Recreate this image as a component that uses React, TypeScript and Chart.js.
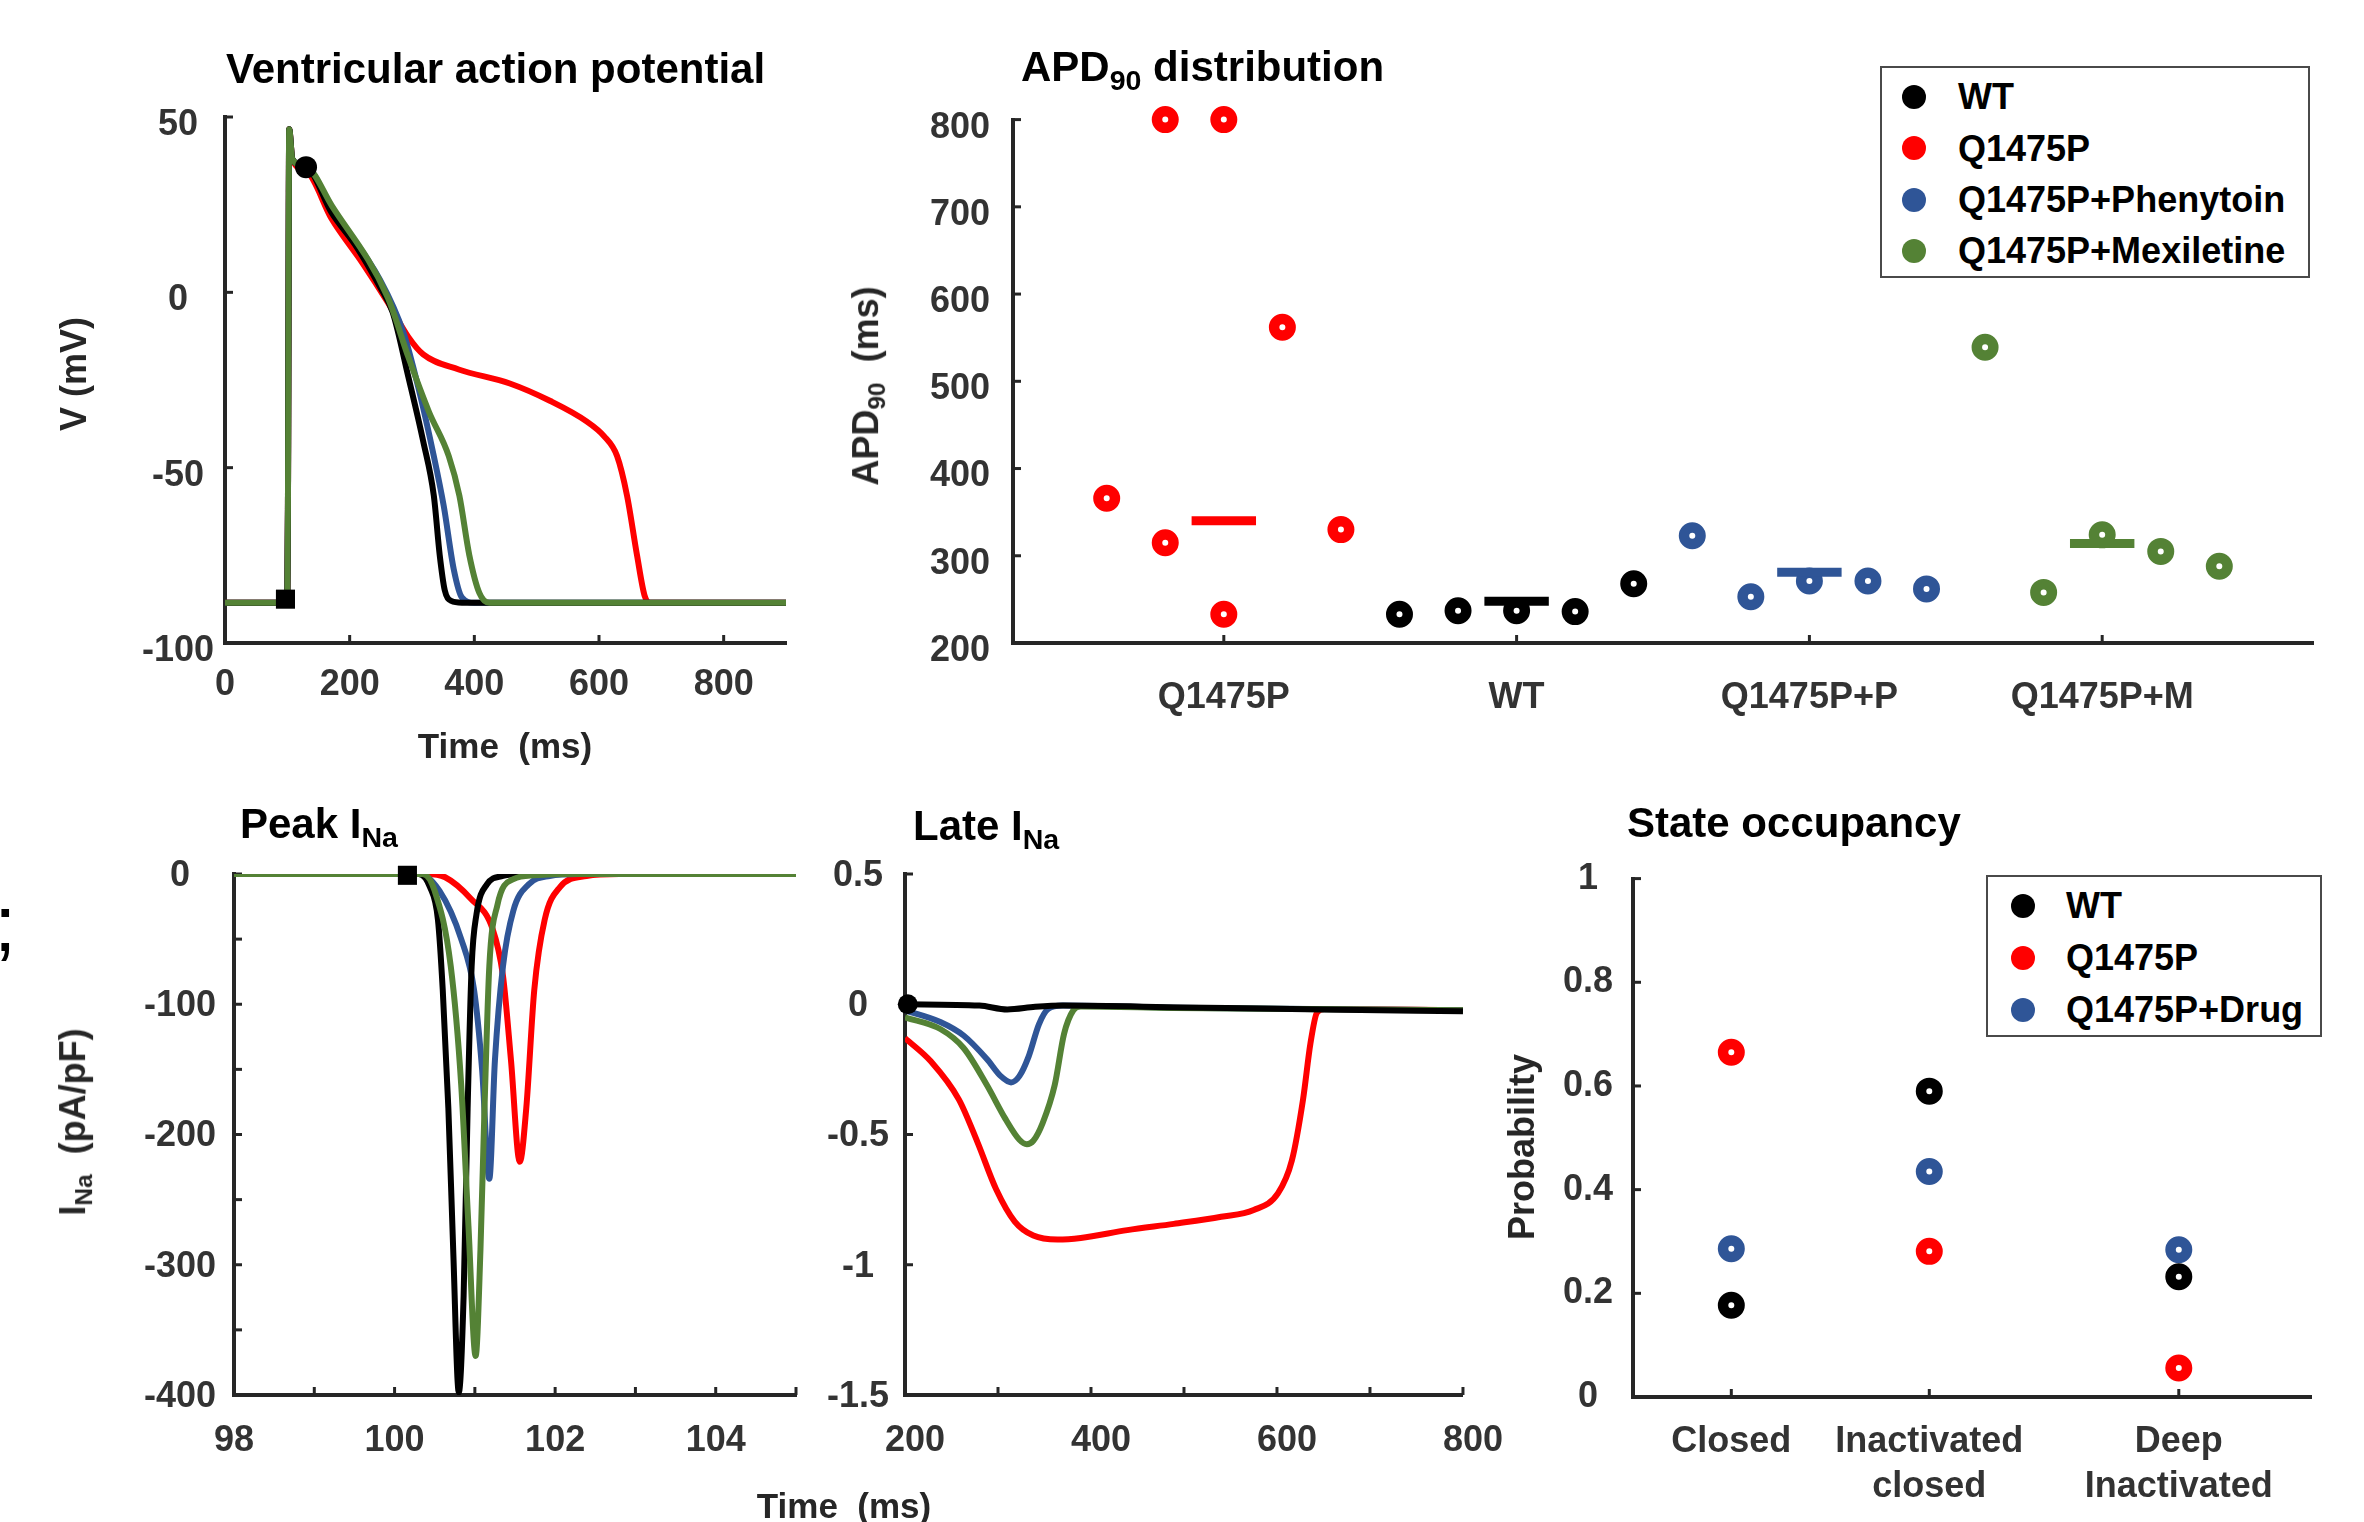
import React, { useEffect, useRef } from "react";
import { Chart, registerables } from "chart.js";

Chart.register(...registerables);

const FONT = '"Liberation Sans", Arial, Helvetica, sans-serif';
const COLOR_WT = "#000000";
const COLOR_Q = "#FF0000";
const COLOR_P = "#2F5597";
const COLOR_M = "#548235";
const AXIS_COLOR = "#262626";
const TICK_TEXT = "#333333";

// ---------- Ventricular action potential ----------
const apTimeWT = [0, 98, 100, 101, 103, 108, 131, 171, 212, 249, 269, 294, 318, 335, 344.5, 352.6, 363, 380, 900];
const apVoltWT = [-88.5, -88.5, -88, -60, 46.5, 38, 35.7, 22.7, 12.7, 1.4, -5.7, -24, -42.5, -58, -75, -85, -88, -88.5, -88.5];
const apTimeQ = [0, 98, 100, 101, 103, 108, 131, 171, 220, 261, 294, 318, 375, 457, 522, 580, 608, 629, 645, 661, 673, 682, 900];
const apVoltQ = [-88.5, -88.5, -88, -60, 46.5, 38, 34.5, 21, 8.5, -2.8, -12.7, -17.7, -22, -26, -31, -36.8, -41, -46.7, -58, -75, -86.4, -88.5, -88.5];
const apTimeP = [0, 98, 100, 101, 103, 108, 131, 171, 249, 286, 310, 335, 351, 367, 380, 400, 900];
const apVoltP = [-88.5, -88.5, -88, -60, 46.5, 38, 35.7, 24, 3.5, -11.3, -27, -46.7, -61, -79, -87, -88.5, -88.5];
const apTimeM = [0, 98, 100, 101, 103, 108, 131, 171, 261, 294, 327, 359, 376, 392, 408, 424, 900];
const apVoltM = [-88.5, -88.5, -88, -60, 46.5, 38, 35.7, 24.8, -1.4, -18.4, -34, -46.7, -58, -75, -85.7, -88.5, -88.5];
const apDotT = [130];
const apDotV = [35.7];
const apSquareT = [97];
const apSquareV = [-87.5];
const apXTicks = [0, 200, 400, 600, 800];
const apXLabels = ["0", "200", "400", "600", "800"];
const apYTicks = [50, 0, -50, -100];
const apYLabels = ["50", "0", "-50", "-100"];

// ---------- APD90 distribution ----------
const apdCategories = ["Q1475P", "WT", "Q1475P+P", "Q1475P+M"];
const apdCategoryPos = [1, 2, 3, 4];
const apdQX = [0.6, 0.8, 0.8, 1.0, 1.0, 1.2, 1.4];
const apdQY = [366, 800, 315, 800, 233, 562, 330];
const apdWTX = [1.6, 1.8, 2.0, 2.2, 2.4];
const apdWTY = [233, 237, 237, 236, 268];
const apdPX = [2.6, 2.8, 3.0, 3.2, 3.4];
const apdPY = [323, 253, 271, 271, 262];
const apdMX = [3.6, 3.8, 4.0, 4.2, 4.4];
const apdMY = [539, 258, 324, 305, 288];
const apdMeans = [340, 248, 281, 314]; // Q1475P, WT, +P, +M
const apdYTicks = [200, 300, 400, 500, 600, 700, 800];
const apdYLabels = ["200", "300", "400", "500", "600", "700", "800"];
const apdLegendLabels = ["WT", "Q1475P", "Q1475P+Phenytoin", "Q1475P+Mexiletine"];

// ---------- Peak INa ----------
const peakTimeWT = [98, 100.3, 100.44, 100.54, 100.6, 100.67, 100.73, 100.8, 100.86, 100.91, 100.96, 101.02, 101.15, 101.35, 101.6, 105];
const peakCurWT = [0, 0, -10, -35, -89, -180, -288, -398, -324, -180, -71, -31, -8, -1.5, 0, 0];
const peakTimeQ = [98, 100.4, 100.63, 100.95, 101.22, 101.35, 101.45, 101.56, 101.64, 101.74, 101.87, 102.06, 102.39, 102.8, 105];
const peakCurQ = [0, 0, -2.5, -19, -42, -78, -143, -221, -180, -89, -35, -10, -1.5, 0, 0];
const peakTimeP = [98, 100.3, 100.56, 100.83, 100.99, 101.09, 101.18, 101.25, 101.35, 101.48, 101.67, 101.93, 102.3, 105];
const peakCurP = [0, 0, -13, -50, -89, -150, -234, -143, -71, -28, -8, -1.5, 0, 0];
const peakTimeM = [98, 100.35, 100.5, 100.7, 100.83, 100.92, 101.01, 101.07, 101.12, 101.18, 101.28, 101.48, 101.74, 102.2, 105];
const peakCurM = [0, 0, -13, -71, -162, -270, -370, -288, -180, -71, -24, -4, -1, 0, 0];
const peakSquareT = [100.16];
const peakSquareI = [-1];
const peakXTicks = [98, 99, 100, 101, 102, 103, 104, 105];
const peakXLabels = ["98", "", "100", "", "102", "", "104", ""];
const peakYTicks = [0, -50, -100, -150, -200, -250, -300, -350, -400];
const peakYLabels = ["0", "", "-100", "", "-200", "", "-300", "", "-400"];

// ---------- Late INa ----------
const lateTimeWT = [200, 280, 310, 340, 370, 500, 650, 800];
const lateCurWT = [0, -0.005, -0.02, -0.01, -0.005, -0.012, -0.02, -0.027];
const lateTimeQ = [200, 228, 258, 278, 298, 318, 338, 364, 389, 439, 489, 540, 575, 601, 616, 628, 636, 643, 651, 800];
const lateCurQ = [-0.13, -0.22, -0.366, -0.53, -0.71, -0.834, -0.888, -0.903, -0.897, -0.867, -0.843, -0.816, -0.79, -0.726, -0.6, -0.366, -0.15, -0.032, -0.018, -0.023];
const lateTimeP = [200, 238, 263, 288, 303, 314, 323, 333, 344, 354, 369, 489, 800];
const lateCurP = [-0.023, -0.068, -0.12, -0.21, -0.276, -0.3, -0.276, -0.2, -0.077, -0.018, -0.005, -0.013, -0.023];
const lateTimeM = [200, 238, 263, 288, 308, 323, 331, 338, 348, 361, 371, 381, 389, 489, 800];
const lateCurM = [-0.05, -0.095, -0.168, -0.31, -0.44, -0.52, -0.537, -0.524, -0.456, -0.31, -0.114, -0.023, -0.009, -0.014, -0.023];
const lateDotT = [203];
const lateDotI = [0];
const lateXTicks = [200, 300, 400, 500, 600, 700, 800];
const lateXLabels = ["200", "", "400", "", "600", "", "800"];
const lateYTicks = [0.5, 0, -0.5, -1, -1.5];
const lateYLabels = ["0.5", "0", "-0.5", "-1", "-1.5"];

// ---------- State occupancy ----------
const stateCategories = [["Closed"], ["Inactivated", "closed"], ["Deep", "Inactivated"]];
const stateX = [1.45, 4.37, 8.05];
const stateWT = [0.177, 0.59, 0.232];
const stateQ = [0.665, 0.281, 0.056];
const stateDrug = [0.286, 0.435, 0.284];
const stateYTicks = [0, 0.2, 0.4, 0.6, 0.8, 1];
const stateYLabels = ["0", "0.2", "0.4", "0.6", "0.8", "1"];
const stateLegendLabels = ["WT", "Q1475P", "Q1475P+Drug"];

// ---------- layout ----------
type Rect = { l: number; t: number; r: number; b: number };
const YW = 140;
const XH = 120;
const PT = 40;
const PR = 50;
const MEAN_HALF = 0.11;
const LINE_W = 6;

const areaAP: Rect = { l: 225, t: 117, r: 786, b: 643 };
const areaAPD: Rect = { l: 1013, t: 115, r: 2313, b: 643 };
const areaPeak: Rect = { l: 234, t: 874, r: 796, b: 1395 };
const areaLate: Rect = { l: 905, t: 874, r: 1467, b: 1395 };
const areaState: Rect = { l: 1633, t: 877, r: 2311, b: 1397 };

const pts = (xs: number[], ys: number[]) => xs.map((x, i) => ({ x, y: ys[i] }));

const curve = (xs: number[], ys: number[], color: string, order: number) => ({
  type: "scatter",
  data: pts(xs, ys),
  showLine: true,
  borderColor: color,
  backgroundColor: color,
  borderWidth: LINE_W,
  pointRadius: 0,
  cubicInterpolationMode: "monotone",
  order,
});

const rings = (xs: number[], ys: number[], color: string, order: number) => ({
  type: "scatter",
  data: pts(xs, ys),
  showLine: false,
  pointStyle: "circle",
  pointRadius: 8.25,
  pointBorderWidth: 10.5,
  pointBackgroundColor: "#FFFFFF",
  pointBorderColor: color,
  clip: false,
  order,
});

const solidMarker = (xs: number[], ys: number[], style: string, radius: number, order: number) => ({
  type: "scatter",
  data: pts(xs, ys),
  showLine: false,
  pointStyle: style,
  pointRadius: radius,
  pointBorderWidth: 0,
  pointBackgroundColor: "#000000",
  pointBorderColor: "#000000",
  clip: false,
  order,
});

type AxisCfg = {
  min: number;
  max: number;
  ticks: number[];
  labels: (string | string[])[];
  horizontal: boolean;
  padding: number;
  labelOffset?: number;
  lineHeight?: number;
};

function axis(cfg: AxisCfg) {
  return {
    type: "linear",
    min: cfg.min,
    max: cfg.max,
    afterBuildTicks: (s: any) => {
      s.ticks = cfg.ticks.map((v) => ({ value: v }));
    },
    afterFit: (s: any) => {
      if (cfg.horizontal) s.height = XH;
      else s.width = YW;
    },
    grid: { display: true, drawOnChartArea: false, drawTicks: false },
    border: { display: true, color: AXIS_COLOR, width: 4 },
    ticks: {
      autoSkip: false,
      maxRotation: 0,
      minRotation: 0,
      padding: cfg.padding,
      labelOffset: cfg.labelOffset ?? 0,
      crossAlign: cfg.horizontal ? "near" : "center",
      color: TICK_TEXT,
      font: { family: FONT, size: 36, weight: "bold", lineHeight: cfg.lineHeight ?? 1.2 },
      callback: (_v: any, i: number) => cfg.labels[i],
    },
  };
}

const insideTicks = {
  id: "insideTicks",
  beforeDatasetsDraw(chart: any) {
    const { ctx, chartArea } = chart;
    const xs = chart.scales.x;
    const ys = chart.scales.y;
    ctx.save();
    ctx.strokeStyle = AXIS_COLOR;
    ctx.lineWidth = 3;
    xs.ticks.forEach((t: any) => {
      const p = xs.getPixelForValue(t.value);
      ctx.beginPath();
      ctx.moveTo(p, chartArea.bottom);
      ctx.lineTo(p, chartArea.bottom - 8);
      ctx.stroke();
    });
    ys.ticks.forEach((t: any) => {
      const p = ys.getPixelForValue(t.value);
      ctx.beginPath();
      ctx.moveTo(chartArea.left, p);
      ctx.lineTo(chartArea.left + 8, p);
      ctx.stroke();
    });
    ctx.restore();
  },
};

function makeConfig(datasets: any[], x: any, y: any) {
  return {
    type: "scatter",
    data: { datasets },
    plugins: [insideTicks],
    options: {
      responsive: false,
      maintainAspectRatio: false,
      animation: false,
      events: [],
      layout: { padding: { top: PT, right: PR, left: 0, bottom: 0 } },
      plugins: { legend: { display: false }, tooltip: { enabled: false }, title: { display: false } },
      scales: { x, y },
    },
  };
}

function ChartPanel({ area, build }: { area: Rect; build: () => any }) {
  const ref = useRef<HTMLCanvasElement | null>(null);
  const w = area.r - area.l + YW + PR;
  const h = area.b - area.t + PT + XH;
  useEffect(() => {
    if (!ref.current) return;
    const chart = new Chart(ref.current, build());
    return () => chart.destroy();
  }, []);
  return (
    <canvas
      ref={ref}
      width={w}
      height={h}
      style={{ position: "absolute", left: area.l - YW, top: area.t - PT, width: w, height: h }}
    />
  );
}

const buildAP = () =>
  makeConfig(
    [
      solidMarker(apDotT, apDotV, "circle", 11, -2),
      solidMarker(apSquareT, apSquareV, "rect", 13.5, -1),
      curve(apTimeM, apVoltM, COLOR_M, 0),
      curve(apTimeWT, apVoltWT, COLOR_WT, 1),
      curve(apTimeP, apVoltP, COLOR_P, 2),
      curve(apTimeQ, apVoltQ, COLOR_Q, 3),
    ],
    axis({ min: 0, max: 900, ticks: apXTicks, labels: apXLabels, horizontal: true, padding: 20 }),
    axis({ min: -100, max: 50, ticks: apYTicks, labels: apYLabels, horizontal: false, padding: 11, labelOffset: 8 })
  );

const meanBar = (center: number, value: number, color: string) => ({
  type: "scatter",
  data: [
    { x: center - MEAN_HALF, y: value },
    { x: center + MEAN_HALF, y: value },
  ],
  showLine: true,
  borderColor: color,
  borderWidth: 9,
  borderCapStyle: "butt",
  pointRadius: 0,
  order: 0,
});

const buildAPD = () =>
  makeConfig(
    [
      meanBar(apdCategoryPos[0], apdMeans[0], COLOR_Q),
      meanBar(apdCategoryPos[1], apdMeans[1], COLOR_WT),
      meanBar(apdCategoryPos[2], apdMeans[2], COLOR_P),
      meanBar(apdCategoryPos[3], apdMeans[3], COLOR_M),
      rings(apdQX, apdQY, COLOR_Q, 1),
      rings(apdWTX, apdWTY, COLOR_WT, 1),
      rings(apdPX, apdPY, COLOR_P, 1),
      rings(apdMX, apdMY, COLOR_M, 1),
    ],
    axis({ min: 0.28, max: 4.72, ticks: apdCategoryPos, labels: apdCategories, horizontal: true, padding: 33 }),
    axis({ min: 200, max: 800, ticks: apdYTicks, labels: apdYLabels, horizontal: false, padding: 23, labelOffset: 8 })
  );

const buildPeak = () =>
  makeConfig(
    [
      solidMarker(peakSquareT, peakSquareI, "rect", 13.5, -1),
      curve(peakTimeM, peakCurM, COLOR_M, 0),
      curve(peakTimeWT, peakCurWT, COLOR_WT, 1),
      curve(peakTimeP, peakCurP, COLOR_P, 2),
      curve(peakTimeQ, peakCurQ, COLOR_Q, 3),
    ],
    axis({ min: 98, max: 105, ticks: peakXTicks, labels: peakXLabels, horizontal: true, padding: 24 }),
    axis({ min: -400, max: 0, ticks: peakYTicks, labels: peakYLabels, horizontal: false, padding: 18, labelOffset: 2 })
  );

const buildLate = () =>
  makeConfig(
    [
      solidMarker(lateDotT, lateDotI, "circle", 10, -1),
      curve(lateTimeWT, lateCurWT, COLOR_WT, 0),
      curve(lateTimeM, lateCurM, COLOR_M, 1),
      curve(lateTimeP, lateCurP, COLOR_P, 2),
      curve(lateTimeQ, lateCurQ, COLOR_Q, 3),
    ],
    axis({ min: 200, max: 800, ticks: lateXTicks, labels: lateXLabels, horizontal: true, padding: 24, labelOffset: 10 }),
    axis({ min: -1.5, max: 0.5, ticks: lateYTicks, labels: lateYLabels, horizontal: false, padding: 16, labelOffset: 2 })
  );

const buildState = () =>
  makeConfig(
    [
      rings(stateX, stateWT, COLOR_WT, 1),
      rings(stateX, stateQ, COLOR_Q, 1),
      rings(stateX, stateDrug, COLOR_P, 1),
    ],
    axis({ min: 0, max: 10, ticks: stateX, labels: stateCategories, horizontal: true, padding: 23, lineHeight: 1.25 }),
    axis({ min: 0, max: 1, ticks: stateYTicks, labels: stateYLabels, horizontal: false, padding: 20 })
  );

// ---------- HTML text helpers ----------
const SUB: React.CSSProperties = { fontSize: "0.68em", verticalAlign: "-0.3em" };

function Text({
  x,
  base,
  size = 42,
  color = "#000",
  center = false,
  children,
}: {
  x: number;
  base: number;
  size?: number;
  color?: string;
  center?: boolean;
  children: React.ReactNode;
}) {
  return (
    <div
      style={{
        position: "absolute",
        left: x,
        top: base - 0.8465 * size,
        transform: center ? "translateX(-50%)" : undefined,
        fontFamily: FONT,
        fontSize: size,
        fontWeight: 700,
        lineHeight: 1,
        color,
        whiteSpace: "pre",
      }}
    >
      {children}
    </div>
  );
}

function VText({ cx, cy, size = 36, children }: { cx: number; cy: number; size?: number; children: React.ReactNode }) {
  return (
    <div
      style={{
        position: "absolute",
        left: cx,
        top: cy,
        transform: "translate(-50%, -50%) rotate(-90deg)",
        fontFamily: FONT,
        fontSize: size,
        fontWeight: 700,
        lineHeight: 1,
        color: "#262626",
        whiteSpace: "pre",
      }}
    >
      {children}
    </div>
  );
}

function Legend({
  left,
  top,
  width,
  height,
  markerX,
  textX,
  firstRow,
  rowStep,
  labels,
  colors,
}: {
  left: number;
  top: number;
  width: number;
  height: number;
  markerX: number;
  textX: number;
  firstRow: number;
  rowStep: number;
  labels: string[];
  colors: string[];
}) {
  const size = 36;
  return (
    <div
      style={{
        position: "absolute",
        left,
        top,
        width,
        height,
        boxSizing: "border-box",
        border: "2px solid #4a4a4a",
        background: "#FFFFFF",
      }}
    >
      {labels.map((lab, i) => {
        const cy = firstRow + i * rowStep;
        return (
          <React.Fragment key={lab}>
            <div
              style={{
                position: "absolute",
                left: markerX - 12,
                top: cy - 12,
                width: 24,
                height: 24,
                borderRadius: "50%",
                background: colors[i],
              }}
            />
            <div
              style={{
                position: "absolute",
                left: textX,
                top: cy + 0.358 * size - 0.8465 * size,
                fontFamily: FONT,
                fontSize: size,
                fontWeight: 700,
                lineHeight: 1,
                color: "#000",
                whiteSpace: "pre",
              }}
            >
              {lab}
            </div>
          </React.Fragment>
        );
      })}
    </div>
  );
}

export default function App() {
  useEffect(() => {
    document.body.style.margin = "0";
    document.body.style.overflow = "hidden";
  }, []);
  return (
    <div
      style={{
        position: "absolute",
        left: 0,
        top: 0,
        width: 2364,
        height: 1522,
        overflow: "hidden",
        background: "#FFFFFF",
      }}
    >
      <ChartPanel area={areaAP} build={buildAP} />
      <ChartPanel area={areaAPD} build={buildAPD} />
      <ChartPanel area={areaPeak} build={buildPeak} />
      <ChartPanel area={areaLate} build={buildLate} />
      <ChartPanel area={areaState} build={buildState} />

      {/* panel titles */}
      <Text x={226} base={84}>Ventricular action potential</Text>
      <Text x={1021} base={82}>
        APD<span style={SUB}>90</span> distribution
      </Text>
      <Text x={240} base={839}>
        Peak I<span style={SUB}>Na</span>
      </Text>
      <Text x={913} base={841}>
        Late I<span style={SUB}>Na</span>
      </Text>
      <Text x={1627} base={838}>State occupancy</Text>

      {/* axis titles */}
      <VText cx={74} cy={374}>V (mV)</VText>
      <Text x={505} base={758} size={35} color="#262626" center>
        {"Time  (ms)"}
      </Text>
      <VText cx={869} cy={386}>
        APD<span style={SUB}>90</span>
        {"  (ms)"}
      </VText>
      <VText cx={76} cy={1122}>
        I<span style={SUB}>Na</span>
        {"  (pA/pF)"}
      </VText>
      <Text x={844} base={1518} size={35} color="#262626" center>
        {"Time  (ms)"}
      </Text>
      <VText cx={1522} cy={1147}>Probability</VText>

      {/* legends */}
      <Legend
        left={1880}
        top={66}
        width={430}
        height={212}
        markerX={32}
        textX={76}
        firstRow={29}
        rowStep={51.3}
        labels={apdLegendLabels}
        colors={[COLOR_WT, COLOR_Q, COLOR_P, COLOR_M]}
      />
      <Legend
        left={1986}
        top={875}
        width={336}
        height={162}
        markerX={35}
        textX={78}
        firstRow={29}
        rowStep={52}
        labels={stateLegendLabels}
        colors={[COLOR_WT, COLOR_Q, COLOR_P]}
      />

      {/* clipped fragment at the left edge */}
      <div
        style={{
          position: "absolute",
          left: -6,
          top: 884,
          fontFamily: FONT,
          fontSize: 80,
          lineHeight: 1,
          color: "#000",
        }}
      >
        ;
      </div>
    </div>
  );
}
